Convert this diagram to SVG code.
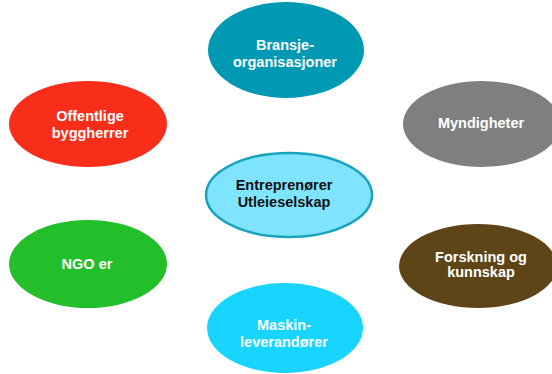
<svg xmlns="http://www.w3.org/2000/svg" width="552" height="374" viewBox="0 0 552 374">
<style>
text{font-family:"Liberation Sans",Arial,sans-serif;font-size:14.5px;font-weight:bold;text-anchor:middle}
.w{fill:#ffffff}
.k{fill:#111111}
</style>
<rect width="552" height="374" fill="#ffffff"/>
<g id="connectors"></g>
<g id="bransje">
<ellipse cx="286" cy="50" rx="78" ry="48" fill="#0099B3"/>
<text class="w" x="285" y="50">Bransje-</text>
<text class="w" x="285" y="67">organisasjoner</text>
</g>
<g id="offentlige">
<ellipse cx="88" cy="124" rx="79" ry="43" fill="#F82E1A"/>
<text class="w" x="90" y="121">Offentlige</text>
<text class="w" x="90" y="138">byggherrer</text>
</g>
<g id="myndigheter">
<ellipse cx="482" cy="124" rx="79" ry="43" fill="#7F7F7F"/>
<text class="w" x="481" y="128">Myndigheter</text>
</g>
<g id="sentrum">
<ellipse cx="289" cy="195" rx="83" ry="42" fill="#7FE4FF" stroke="#1AA3BC" stroke-width="2.5"/>
<text class="k" x="284" y="190">Entreprenører</text>
<text class="k" x="284" y="207">Utleieselskap</text>
</g>
<g id="ngo">
<ellipse cx="88" cy="264" rx="79" ry="44" fill="#22BF2A"/>
<text class="w" x="87" y="269">NGO er</text>
</g>
<g id="forskning">
<ellipse cx="478" cy="266" rx="79" ry="42" fill="#5E4518"/>
<text class="w" x="481" y="262">Forskning og</text>
<text class="w" x="481" y="277">kunnskap</text>
</g>
<g id="maskin">
<ellipse cx="285" cy="328" rx="78" ry="45" fill="#17D5FF"/>
<text class="w" x="284" y="330">Maskin-</text>
<text class="w" x="284" y="347">leverandører</text>
</g>
</svg>
